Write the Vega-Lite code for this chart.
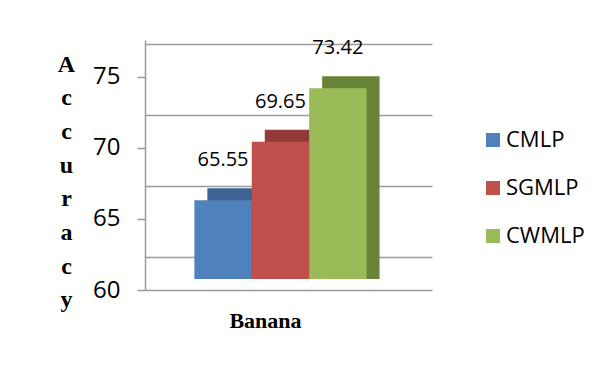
{
  "$schema": "https://vega.github.io/schema/vega-lite/v6.json",
  "autosize": {"type": "none"},
  "width": 287,
  "height": 250,
  "padding": {"left": 145, "top": 40, "right": 176, "bottom": 76},
  "background": "white",
  "config": {"view": {"stroke": null}},
  "data": {"values": [
    {"dataset": "Banana", "method": "CMLP", "accuracy": 65.55},
    {"dataset": "Banana", "method": "SGMLP", "accuracy": 69.65},
    {"dataset": "Banana", "method": "CWMLP", "accuracy": 73.42}
  ]},
  "encoding": {
    "x": {"field": "method", "type": "nominal", "sort": ["CMLP", "SGMLP", "CWMLP"],
      "scale": {"paddingInner": 0, "paddingOuter": 1.174, "align": 0.43},
      "axis": {"domainColor": "#9a9a9a", "domainWidth": 1.5, "ticks": false, "labels": false,
        "title": "Banana", "titleFont": "Liberation Serif", "titleFontWeight": "bold", "titleFontSize": 22,
        "titleColor": "#000", "titleX": 120, "titleY": 37, "titleBaseline": "alphabetic", "titleAlign": "center"}}
  },
  "layer": [
    {
      "mark": {"type": "point", "opacity": 0},
      "encoding": {
        "y": {"field": "accuracy", "type": "quantitative",
          "scale": {"domain": [60, 77.58], "nice": false, "zero": false},
          "axis": {"orient": "left", "values": [60, 65, 70, 75], "grid": false,
            "domainColor": "#9a9a9a", "domainWidth": 1.5, "tickColor": "#9a9a9a", "tickWidth": 1.5, "tickSize": 8,
            "labelFont": "Open Sans", "labelFontSize": 24, "labelColor": "#000", "labelPadding": 17,
            "title": ["A", "c", "c", "u", "r", "a", "c", "y"],
            "titleFont": "Liberation Serif", "titleFontWeight": "bold", "titleFontSize": 24, "titleColor": "#000",
            "titleAngle": 0, "titleAlign": "center", "titleBaseline": "alphabetic", "titleLineHeight": 33.7,
            "titleX": -79, "titleY": 31}}
      }
    },
    {
      "mark": {"type": "point", "opacity": 0},
      "encoding": {
        "y": {"field": "accuracy", "type": "quantitative",
          "scale": {"domain": [57.68, 75.26], "nice": false, "zero": false},
          "axis": {"orient": "right", "values": [60, 65, 70, 75], "grid": true, "gridColor": "#9a9a9a", "gridWidth": 1.5,
            "labels": false, "ticks": false, "domain": false, "title": null, "zindex": 0}}
      }
    },
    {
      "mark": {"type": "bar", "xOffset": 13, "yOffset": -12},
      "encoding": {
        "y": {"field": "accuracy", "type": "quantitative",
          "scale": {"domain": [59.23, 76.81], "nice": false, "zero": false}, "axis": null},
        "y2": {"datum": 60},
        "color": {"field": "method", "type": "nominal", "legend": null,
          "scale": {"domain": ["CMLP", "SGMLP", "CWMLP"], "range": ["#3c6394", "#933a38", "#6a8437"]}}
      }
    },
    {
      "mark": {"type": "bar"},
      "encoding": {
        "y": {"field": "accuracy", "type": "quantitative",
          "scale": {"domain": [59.23, 76.81], "nice": false, "zero": false}, "axis": null},
        "y2": {"datum": 60},
        "color": {"field": "method", "type": "nominal", "title": null,
          "scale": {"domain": ["CMLP", "SGMLP", "CWMLP"], "range": ["#4f81bd", "#c0504d", "#9bbb59"]},
          "legend": {"orient": "none", "legendX": 337, "legendY": 89, "symbolType": "square", "symbolSize": 196,
            "symbolStrokeWidth": 0, "labelFont": "Open Sans", "labelFontSize": 22, "labelColor": "#000",
            "labelOffset": 2, "rowPadding": 26}}
      }
    },
    {
      "mark": {"type": "text", "dy": -40, "font": "Open Sans", "fontSize": 20, "color": "#000", "baseline": "middle"},
      "encoding": {
        "y": {"field": "accuracy", "type": "quantitative",
          "scale": {"domain": [59.23, 76.81], "nice": false, "zero": false}, "axis": null},
        "text": {"field": "accuracy", "type": "quantitative", "format": ".2f"}
      }
    }
  ],
  "resolve": {"scale": {"y": "independent", "color": "independent"}}
}
